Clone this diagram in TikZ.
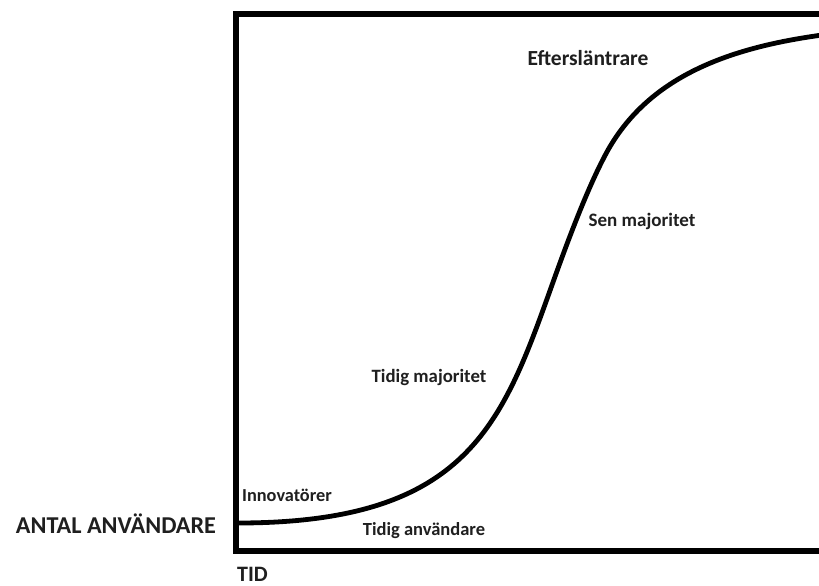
\documentclass[tikz,border=0pt]{standalone}
\usepackage{fontspec}
\setmainfont{Carlito}
\begin{document}
\begin{tikzpicture}[x=1pt,y=-1pt,
  lbl/.style={font=\bfseries\fontsize{#1}{#1}\selectfont, text=black!88, inner sep=0pt},
  frame/.style={line width=5.5pt, line join=miter},
  curve/.style={line width=4.8pt, line cap=round}]
\useasboundingbox (0,0) rectangle (819,586);
\clip (0,0) rectangle (819,586);
\fill[white] (0,0) rectangle (819,586);
% frame (right side runs off the picture)
\draw[frame] (830,14) -- (236,14) -- (236,551) -- (830,551);
% S-curve
\coordinate (c0) at (238,523);
\coordinate (c1) at (552,285);
\coordinate (c2) at (608,150);
\coordinate (c3) at (830,34);
\draw[curve] (c0) .. controls (467,523) and (502,425) .. (c1)
  .. controls (567,243) and (588,186) .. (c2)
  .. controls (650,76) and (730,46.5) .. (c3);
% labels
\node[lbl=21.5] (eft) at (588,58) {Eftersläntrare};
\node[lbl=19] (sen) at (642,221) {Sen majoritet};
\node[lbl=18.8] (tmaj) at (429,377) {Tidig majoritet};
\node[lbl=18.3, anchor=west] (inn) at (242,495) {Innovatörer};
\node[lbl=18.5] (tanv) at (424,531) {Tidig användare};
\node[lbl=24.2] (antal) at (116,524) {ANTAL ANVÄNDARE};
\node[lbl=22, anchor=west] (tid) at (237,574) {TID};
\end{tikzpicture}
\end{document}
